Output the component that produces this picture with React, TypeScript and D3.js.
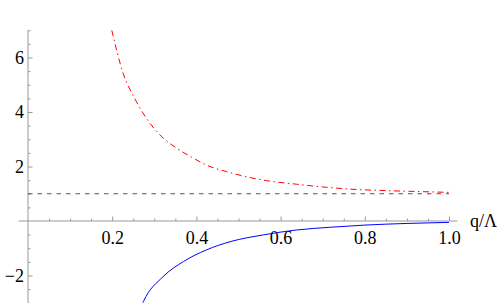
import React, { useEffect, useRef } from 'react';
import * as d3 from 'd3';

const width = 500;
const height = 303;

// red dot-dashed curve
const redQ = [0.199, 0.226, 0.254, 0.29, 0.318, 0.353, 0.389, 0.424, 0.472, 0.511, 0.567, 0.638, 0.7, 0.765, 0.86, 0.93, 1.0];
const redV = [7.0, 5.42, 4.48, 3.58, 3.09, 2.67, 2.34, 2.05, 1.81, 1.65, 1.48, 1.35, 1.25, 1.17, 1.11, 1.08, 1.05];

// blue solid curve
const blueQ = [0.27, 0.274, 0.321, 0.369, 0.424, 0.48, 0.559, 0.638, 0.717, 0.8, 0.9, 1.0];
const blueV = [-3.1, -2.96, -2.04, -1.49, -1.06, -0.76, -0.51, -0.33, -0.23, -0.15, -0.09, -0.05];

// dashed reference level
const refQ = [0, 1];
const refV = [1, 1];

const xMajor = [0.2, 0.4, 0.6, 0.8, 1.0];
const yMajor = [-2, 2, 4, 6];
const xLabel = 'q/Λ';

const x = d3.scaleLinear().domain([0, 1]).range([28, 449]);
const y = d3.scaleLinear().domain([-3, 7]).range([302.75, 30.25]);

const xMinor = d3.range(0.05, 1.001, 0.05).filter(v => !xMajor.some(m => Math.abs(m - v) < 1e-6));
const yMinor = d3.range(-3, 7.001, 0.5).filter(v => v !== 0 && !yMajor.some(m => Math.abs(m - v) < 1e-6));

const axisColor = '#999';
const font = 'Liberation Serif, DejaVu Serif, serif';

const line = d3
  .line<[number, number]>()
  .x(d => x(d[0]))
  .y(d => y(d[1]))
  .curve(d3.curveMonotoneX);

const zip = (a: number[], b: number[]) => a.map((v, i) => [v, b[i]] as [number, number]);

export default function App() {
  const xAxisRef = useRef<SVGGElement>(null);
  const yAxisRef = useRef<SVGGElement>(null);

  useEffect(() => {
    const gx = d3.select(xAxisRef.current);
    gx.selectAll('*').remove();
    const xa = d3.axisBottom(x).tickValues(xMajor).tickSize(-4.5).tickPadding(10).tickFormat(d3.format('.1f'));
    const xm = d3.axisBottom(x).tickValues(xMinor).tickSize(-2.5).tickFormat(() => '');
    gx.append('g').call(xa);
    gx.append('g').call(xm);

    const gy = d3.select(yAxisRef.current);
    gy.selectAll('*').remove();
    const ya = d3.axisLeft(y).tickValues(yMajor).tickSize(-4.5).tickPadding(4).tickFormat(d3.format('d'));
    const ym = d3.axisLeft(y).tickValues(yMinor).tickSize(-2.5).tickFormat(() => '');
    gy.append('g').call(ya);
    gy.append('g').call(ym);

    [gx, gy].forEach(g => {
      g.selectAll('.domain').remove();
      g.selectAll('g').attr('font-family', null).attr('font-size', null);
      g.selectAll('line').attr('stroke', axisColor);
      g.selectAll('text').attr('fill', '#000').style('font-family', font).style('font-size', '18px');
    });
  }, []);

  return (
    <svg width={width} height={height} style={{ position: 'absolute', left: 0, top: 0, background: '#fff' }}>
      <defs>
        <clipPath id="plot">
          <rect x={x(0)} y={y(7)} width={x(1.03) - x(0)} height={y(-3) - y(7)} />
        </clipPath>
      </defs>
      <line x1={x(-0.022)} x2={x(1.02)} y1={y(0)} y2={y(0)} stroke={axisColor} />
      <line x1={x(0)} x2={x(0)} y1={y(7)} y2={y(-3)} stroke={axisColor} />
      <g ref={xAxisRef} transform={`translate(0,${y(0)})`} />
      <g ref={yAxisRef} transform={`translate(${x(0)},0)`} />
      <g clipPath="url(#plot)" fill="none">
        <path d={line(zip(refQ, refV)) || ''} stroke="#555" strokeDasharray="4.5,5" />
        <path d={line(zip(redQ, redV)) || ''} stroke="#f00" strokeDasharray="6,3.5,1.5,3.5" />
        <path d={line(zip(blueQ, blueV)) || ''} stroke="#00f" />
      </g>
      <text x={470} y={227} style={{ fontFamily: font, fontSize: 18 }} fill="#000">
        {xLabel}
      </text>
    </svg>
  );
}
